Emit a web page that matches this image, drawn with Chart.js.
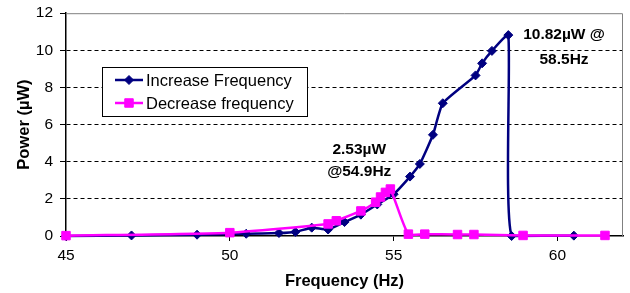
<!DOCTYPE html>
<html>
<head>
<meta charset="utf-8">
<script src="https://cdn.jsdelivr.net/npm/chart.js"></script>
<style>
  body { margin: 0; background: #fff; }
  #wrap { width: 630px; height: 293px; }
</style>
</head>
<body>
<div id="wrap"><canvas id="powerChart" width="630" height="293"></canvas></div>
<script>
// Increase Frequency sweep (navy diamonds)
const incFreq  = [45, 47, 49, 50.5, 51.5, 52, 52.5, 53, 53.5, 54, 54.5, 55, 55.5, 55.8, 56.2, 56.5, 57.5, 57.7, 58, 58.5, 58.6, 60.5];
const incPower = [0, 0.03, 0.07, 0.12, 0.16, 0.22, 0.45, 0.35, 0.75, 1.15, 1.7, 2.25, 3.2, 3.88, 5.45, 7.15, 8.65, 9.3, 9.97, 10.82, 0, 0.02];

// Decrease frequency sweep (magenta squares)
const decFreq  = [45, 50, 53, 53.25, 54, 54.45, 54.6, 54.75, 54.9, 55.45, 55.95, 56.95, 57.45, 58.95, 61.45];
const decPower = [0.02, 0.18, 0.65, 0.82, 1.35, 1.82, 2.1, 2.35, 2.53, 0.1, 0.1, 0.08, 0.08, 0.03, 0.03];

const seriesNames = ['Increase Frequency', 'Decrease frequency'];
const xTicks = [45, 50, 55, 60];
const yTicks = [0, 2, 4, 6, 8, 10, 12];

// callout texts, anchored in data units
const notes = [
  { lines: ['2.53\u00b5W', '@54.9Hz'], x: 53.95, y: [4.64, 3.45] },
  { lines: ['10.82\u00b5W @', '58.5Hz'], x: 60.2, y: [10.84, 9.49] }
];

const toPoints = (xs, ys) => xs.map((x, i) => ({ x: x, y: ys[i] }));

const boxLegend = {
  id: 'boxLegend',
  afterDraw(chart) {
    const ctx = chart.ctx;
    ctx.save();
    ctx.fillStyle = '#fff';
    ctx.fillRect(102, 67, 205, 49);
    ctx.strokeStyle = '#000';
    ctx.lineWidth = 1;
    ctx.strokeRect(102.5, 67.5, 205, 49);
    chart.data.datasets.forEach((ds, i) => {
      const y = 80 + i * 23;
      ctx.strokeStyle = ds.borderColor;
      ctx.lineWidth = 2.5;
      ctx.beginPath();
      ctx.moveTo(115, y);
      ctx.lineTo(143, y);
      ctx.stroke();
      ctx.fillStyle = ds.pointBackgroundColor;
      ctx.strokeStyle = ds.pointBorderColor;
      ctx.lineWidth = 1;
      Chart.helpers.drawPoint(ctx, { pointStyle: ds.pointStyle, radius: ds.pointRadius, rotation: 0, borderWidth: 1 }, 129, y);
      ctx.fillStyle = '#000';
      ctx.font = '16.5px "Liberation Sans", Arial, sans-serif';
      ctx.textBaseline = 'middle';
      ctx.textAlign = 'left';
      ctx.fillText(ds.label, 146, y + 1);
    });
    ctx.restore();
  }
};

const frameAndNotes = {
  id: 'frameAndNotes',
  beforeDatasetsDraw(chart) {
    const a = chart.chartArea;
    const ctx = chart.ctx;
    ctx.save();
    ctx.strokeStyle = '#808080';
    ctx.lineWidth = 1;
    ctx.beginPath();
    ctx.moveTo(a.left, a.top + 0.5);
    ctx.lineTo(a.right - 0.5, a.top + 0.5);
    ctx.lineTo(a.right - 0.5, a.bottom);
    ctx.stroke();
    ctx.restore();
  },
  afterDraw(chart) {
    const ctx = chart.ctx;
    const xs = chart.scales.x, ys = chart.scales.y;
    ctx.save();
    ctx.fillStyle = '#000';
    ctx.font = 'bold 15.5px "Liberation Sans", Arial, sans-serif';
    ctx.textAlign = 'center';
    ctx.textBaseline = 'middle';
    notes.forEach(n => {
      n.lines.forEach((t, i) => {
        ctx.fillText(t, xs.getPixelForValue(n.x), ys.getPixelForValue(n.y[i]));
      });
    });
    ctx.restore();
  }
};

const fontFamily = '"Liberation Sans", Arial, sans-serif';
const xTickFont = { family: fontFamily, size: 15.5 };
const yTickFont = { family: fontFamily, size: 15.5, lineHeight: 0.8 };
const titleFont = { family: fontFamily, size: 16.5, weight: 'bold' };

new Chart(document.getElementById('powerChart'), {
  type: 'line',
  data: {
    datasets: [{
      label: seriesNames[0],
      data: toPoints(incFreq, incPower),
      borderColor: '#000080',
      backgroundColor: '#000080',
      pointBackgroundColor: '#000080',
      pointBorderColor: '#000080',
      pointStyle: 'rectRot',
      pointRadius: 4.5,
      pointBorderWidth: 1,
      borderWidth: 2.5,
      tension: 0.15,
      clip: false,
      order: 1
    }, {
      label: seriesNames[1],
      data: toPoints(decFreq, decPower),
      borderColor: '#ff00ff',
      backgroundColor: '#ff00ff',
      pointBackgroundColor: '#ff00ff',
      pointBorderColor: '#ff00ff',
      pointStyle: 'rect',
      pointRadius: 6,
      pointBorderWidth: 1,
      borderWidth: 2.5,
      tension: 0.2,
      clip: false,
      order: 0
    }]
  },
  options: {
    responsive: false,
    animation: false,
    layout: { padding: { top: 13, right: 0, left: 0, bottom: 0 } },
    scales: {
      x: {
        type: 'linear',
        min: xTicks[0],
        max: 62,
        afterFit: s => { s.height = 57; },
        ticks: { stepSize: 5, includeBounds: false, color: '#000', font: xTickFont, padding: 5, maxRotation: 0 },
        grid: { drawOnChartArea: false, drawTicks: true, tickLength: 5, tickColor: '#000', color: '#000' },
        border: { color: '#000', width: 1.5 },
        title: { display: true, text: 'Frequency (Hz)', color: '#000', font: titleFont, padding: { top: 0, bottom: 2 } }
      },
      y: {
        min: yTicks[0],
        max: yTicks[yTicks.length - 1],
        afterFit: s => { s.width = 66; },
        ticks: { stepSize: 2, color: '#000', font: yTickFont, padding: 7 },
        grid: {
          tickLength: 6,
          tickColor: '#000',
          lineWidth: 1,
          color: c => (c.tick && (c.tick.value === 0 || c.tick.value === 12)) ? 'rgba(0,0,0,0)' : '#000'
        },
        border: { color: '#000', width: 1.5, dash: [4, 3] },
        title: { display: true, text: 'Power (\u00b5W)', color: '#000', font: titleFont, padding: { top: 15, bottom: 0 } }
      }
    },
    plugins: {
      legend: { display: false },
      tooltip: { enabled: false }
    }
  },
  plugins: [frameAndNotes, boxLegend]
});
</script>
</body>
</html>
